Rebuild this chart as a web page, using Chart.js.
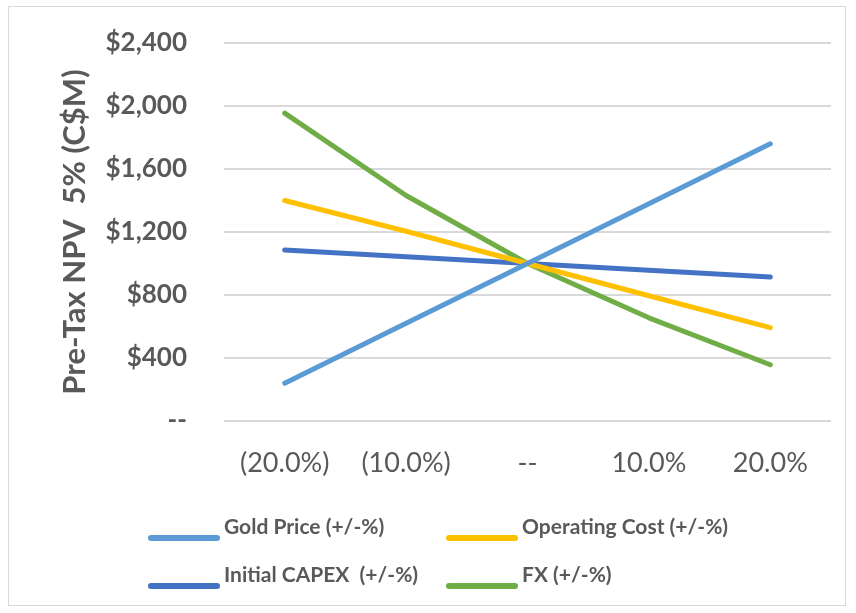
<!DOCTYPE html>
<html>
<head>
<meta charset="utf-8">
<script src="https://cdn.jsdelivr.net/npm/chart.js@4.4.1/dist/chart.umd.min.js"></script>
<style>
  html, body { margin:0; padding:0; background:#fff; }
  #frame {
    position:absolute; left:8px; top:6px; width:838px; height:600px;
    border:1.5px solid #d9d9d9; box-sizing:border-box;
  }
  #wrap { position:absolute; left:0; top:0; width:856px; height:613px; }
  #legend { position:absolute; left:0; top:0; width:856px; height:613px; pointer-events:none; }
  .lg-item {
    position:absolute; display:flex; align-items:center; height:24px;
    font-family:Lato, 'Open Sans', sans-serif; font-weight:700; font-size:21px; color:#595959;
    white-space:pre;
  }
  .lg-line { width:72px; height:6px; border-radius:3px; margin-right:4px; }
</style>
</head>
<body>
<div id="frame"></div>
<div id="wrap"><canvas id="npvChart" width="856" height="613"></canvas></div>
<div id="legend"></div>
<script>
'use strict';

// ── Data ──────────────────────────────────────────────────
const CATEGORIES = ['(20.0%)', '(10.0%)', '--', '10.0%', '20.0%'];
const GOLD_PRICE = [240, 620, 1000, 1380, 1760];
const OPEX       = [1400, 1205, 1000, 795, 593];
const CAPEX      = [1086, 1043, 1000, 957, 914];
const FX         = [1955, 1432, 1000, 655, 357];
const Y_TICKS    = [0, 400, 800, 1200, 1600, 2000, 2400];

const SERIES = [
  { label:'Gold Price (+/-%)',      data:GOLD_PRICE, color:'#5b9bd5' },
  { label:'Operating Cost (+/-%)',  data:OPEX,       color:'#ffc000' },
  { label:'Initial CAPEX  (+/-%)',  data:CAPEX,      color:'#4472c4' },
  { label:'FX (+/-%)',              data:FX,         color:'#70ad47' },
];

// legend slots (2 x 2 grid, like the original)
const LEGEND_POS = [
  { left:148, top:526 }, { left:446, top:526 },
  { left:148, top:574 }, { left:446, top:574 },
];

const FONT_FAMILY = "Lato, 'Open Sans', sans-serif";
const TXT = '#595959';

// ── Chart ─────────────────────────────────────────────────
new Chart(document.getElementById('npvChart'), {
  type: 'line',
  data: {
    labels: CATEGORIES,
    datasets: SERIES.map(s => ({
      label: s.label,
      data: s.data,
      borderColor: s.color,
      backgroundColor: s.color,
      borderWidth: 5,
      borderCapStyle: 'round',
      borderJoinStyle: 'round',
      pointRadius: 0,
      tension: 0,
      fill: false,
    })),
  },
  options: {
    responsive: false,
    animation: false,
    layout: { padding: { left:0, right:25, top:43, bottom:0 } },
    plugins: { legend:{ display:false }, tooltip:{ enabled:false } },
    scales: {
      x: {
        offset: true,
        grid: { display:false },
        border: { display:false },
        ticks: { font:{ family:FONT_FAMILY, size:27 }, color:TXT, padding:18, maxRotation:0 },
        afterFit: s => { s.height = 192; },
      },
      y: {
        min: 0, max: 2400,
        afterBuildTicks: s => { s.ticks = Y_TICKS.map(v => ({ value:v })); },
        grid: { color:'#d9d9d9', lineWidth:2, drawTicks:false },
        border: { display:false },
        ticks: {
          font:{ family:FONT_FAMILY, size:26, weight:'bold' }, color:TXT, padding:37,
          callback: v => v === 0 ? '--' : '$' + v.toLocaleString('en-US'),
        },
        title: {
          display: true, text: 'Pre-Tax NPV  5% (C$M)', color: TXT,
          font: { family:FONT_FAMILY, size:31, weight:'bold' },
          padding: { top:56, bottom:0 },
        },
        afterFit: s => { s.width = 224; s.paddingTop = 0; s.paddingBottom = 0; },
      },
    },
  },
});

// ── Legend ────────────────────────────────────────────────
const legendEl = document.getElementById('legend');
SERIES.forEach((s, i) => {
  const p = LEGEND_POS[i];
  legendEl.innerHTML += `
    <div class="lg-item" style="left:${p.left}px;top:${p.top}px">
      <span class="lg-line" style="background:${s.color}"></span>${s.label}
    </div>`;
});
</script>
</body>
</html>
